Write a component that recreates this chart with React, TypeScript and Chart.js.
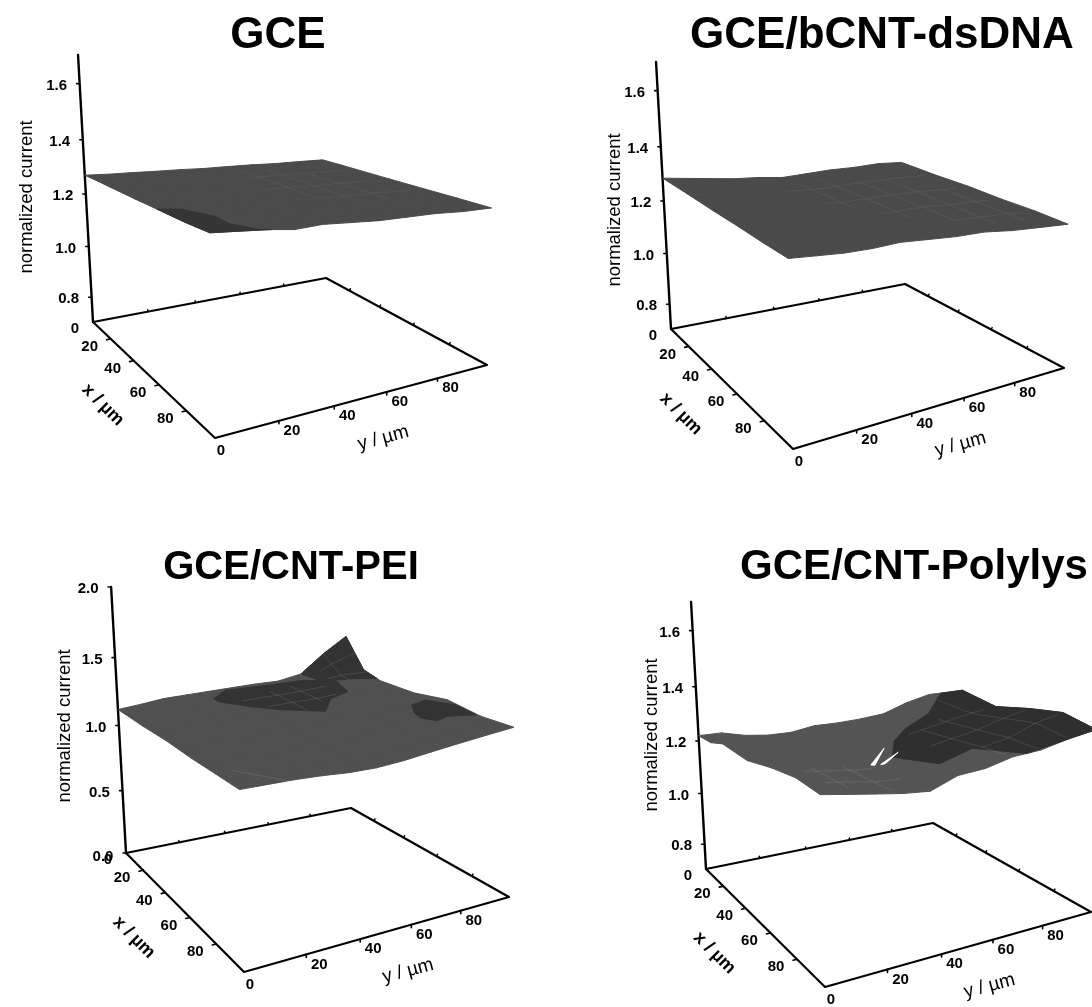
import React, { useEffect, useRef } from "react";
import { Chart, registerables } from "chart.js";

Chart.register(...registerables);

// ---------- data ----------
const X_NODES = [0, 10, 20, 40, 60, 80, 100];
const Y_NODES = [0, 10, 20, 30, 40, 50, 60, 70, 80, 90, 100];
const X_TICKS = [20, 40, 60, 80];
const Y_TICKS = [20, 40, 60, 80];

const GCE_Z = [
  [1.27, 1.265, 1.262, 1.258, 1.255, 1.25, 1.248, 1.245, 1.24, 1.238, 1.235],
  [1.272, 1.268, 1.264, 1.26, 1.256, 1.252, 1.25, 1.247, 1.243, 1.24, 1.238],
  [1.273, 1.27, 1.265, 1.262, 1.258, 1.255, 1.252, 1.25, 1.246, 1.243, 1.24],
  [1.275, 1.272, 1.268, 1.265, 1.262, 1.258, 1.256, 1.253, 1.25, 1.247, 1.244],
  [1.278, 1.275, 1.27, 1.266, 1.264, 1.262, 1.258, 1.256, 1.254, 1.25, 1.248],
  [1.28, 1.277, 1.272, 1.268, 1.266, 1.264, 1.26, 1.258, 1.256, 1.254, 1.252],
  [1.285, 1.28, 1.275, 1.265, 1.27, 1.265, 1.26, 1.26, 1.26, 1.255, 1.255],
];
const BCNT_Z = [
  [1.285, 1.275, 1.265, 1.255, 1.25, 1.24, 1.245, 1.25, 1.25, 1.255, 1.25],
  [1.28, 1.27, 1.262, 1.252, 1.248, 1.24, 1.243, 1.247, 1.248, 1.25, 1.245],
  [1.275, 1.265, 1.258, 1.25, 1.245, 1.24, 1.24, 1.245, 1.245, 1.245, 1.24],
  [1.265, 1.258, 1.25, 1.245, 1.243, 1.238, 1.238, 1.24, 1.24, 1.235, 1.235],
  [1.258, 1.25, 1.245, 1.242, 1.24, 1.238, 1.235, 1.238, 1.232, 1.23, 1.225],
  [1.25, 1.245, 1.24, 1.238, 1.24, 1.236, 1.233, 1.232, 1.228, 1.225, 1.22],
  [1.245, 1.24, 1.235, 1.235, 1.24, 1.235, 1.23, 1.23, 1.22, 1.215, 1.21],
];
const PEI_Z = [
  [1.12, 1.14, 1.165, 1.175, 1.185, 1.195, 1.205, 1.21, 1.25, 1.4, 1.53],
  [1.11, 1.13, 1.15, 1.16, 1.17, 1.18, 1.19, 1.2, 1.22, 1.27, 1.29],
  [1.1, 1.12, 1.14, 1.15, 1.16, 1.17, 1.18, 1.19, 1.21, 1.23, 1.24],
  [1.09, 1.1, 1.11, 1.12, 1.13, 1.14, 1.15, 1.16, 1.18, 1.21, 1.225],
  [1.07, 1.08, 1.09, 1.1, 1.11, 1.12, 1.13, 1.15, 1.17, 1.21, 1.25],
  [1.06, 1.07, 1.07, 1.08, 1.09, 1.1, 1.11, 1.13, 1.15, 1.18, 1.205],
  [1.05, 1.055, 1.06, 1.06, 1.055, 1.06, 1.08, 1.11, 1.14, 1.17, 1.2],
];
const POLY_Z = [
  [1.22, 1.22, 1.2, 1.19, 1.19, 1.205, 1.205, 1.21, 1.22, 1.255, 1.28],
  [1.22, 1.22, 1.21, 1.2, 1.2, 1.21, 1.22, 1.23, 1.25, 1.28, 1.31],
  [1.24, 1.23, 1.22, 1.21, 1.21, 1.22, 1.23, 1.25, 1.27, 1.31, 1.34],
  [1.23, 1.23, 1.22, 1.22, 1.22, 1.23, 1.24, 1.26, 1.28, 1.3, 1.315],
  [1.25, 1.24, 1.23, 1.22, 1.22, 1.23, 1.25, 1.27, 1.29, 1.32, 1.345],
  [1.26, 1.24, 1.23, 1.22, 1.22, 1.24, 1.25, 1.28, 1.3, 1.34, 1.365],
  [1.25, 1.24, 1.23, 1.22, 1.215, 1.25, 1.26, 1.285, 1.295, 1.32, 1.34],
];

// darker contour patches on the surfaces, as [x, y] in µm
const GCE_DARK = [[[57.5, 0], [60.6, 8], [75, 13.7], [87.4, 12.8], [98, 17.7], [100, 22], [100, 10], [100, 0], [80, 0]]];
const PEI_DARK = [
  [[8, 37], [1.5, 46], [3, 60], [5, 76], [10, 83], [13, 86], [25, 83], [28, 74], [39, 65], [30, 52], [22, 44], [12, 37]],
  [[53, 96], [66, 99.5], [78, 99.5], [73, 92], [74, 87.5], [68, 85], [62, 86], [54, 90]],
  [[0, 80], [0, 90], [0, 100], [10, 100], [18, 100], [15, 92], [10, 82]],
];
const POLY_DARK = [[[7, 100], [20, 100], [40, 100], [60, 100], [80, 100], [100, 100], [100, 90], [100, 75], [77, 68], [80, 54], [58, 48], [42, 58], [33, 68], [26, 82]]];
const POLY_GAP = [
  [[61, 38], [47, 51], [62, 39]],
  [[62.5, 41], [55, 52], [63, 42.5]],
];

// faint grid traces on the surfaces: [x1, y1, x2, y2] in µm
const GCE_FAINT = [[20, 55, 20, 95], [40, 50, 40, 90], [60, 60, 60, 95], [10, 60, 60, 60], [10, 70, 70, 70], [20, 80, 70, 80]];
const BCNT_FAINT = [[20, 40, 20, 95], [40, 45, 40, 95], [60, 55, 60, 95], [80, 70, 80, 95], [10, 50, 50, 50], [10, 60, 70, 60], [20, 70, 80, 70], [20, 80, 90, 80], [40, 90, 90, 90]];
const PEI_FAINT = [[10, 60, 35, 60], [8, 70, 28, 70], [15, 45, 15, 80], [25, 50, 25, 78], [0, 90, 15, 90], [5, 85, 5, 100], [10, 85, 12, 100], [80, 6, 100, 18]];
const POLY_FAINT = [[40, 70, 95, 70], [35, 80, 98, 80], [20, 90, 98, 90], [40, 65, 40, 95], [60, 62, 60, 98], [80, 70, 80, 98], [60, 15, 90, 15], [60, 28, 95, 28], [65, 10, 65, 38], [82, 10, 82, 38]];

const TITLE_A = "GCE";
const TITLE_B = "GCE/bCNT-dsDNA";
const TITLE_C = "GCE/CNT-PEI";
const TITLE_D = "GCE/CNT-Polylys";
const Z_TICKS_FINE = [0.8, 1.0, 1.2, 1.4, 1.6];
const Z_TICKS_PEI = [0.0, 0.5, 1.0, 1.5, 2.0];

// ---------- panel geometry (styling of the 3-D view) ----------
type Pt = [number, number];
type Panel = {
  title: string; tSize: number; tX: number; tY: number; left: number; top: number; height: number;
  L: Pt; F: Pt; R: Pt; B: Pt; z0: number; zMax: number; k: number; q: number;
  zt: number[]; grid: number[][]; dark: number[][][]; gap: number[][][]; faint: number[][];
  base: string; shade: string; faintColor: string; zLabel: Pt;
};
const M = { L: 1, F: 1.36, R: 1.1, B: 0.86 };
const LEAN = { L: -0.056, F: -0.034, R: 0.032, B: -0.025 };

const PANELS: Panel[] = [
  { title: TITLE_A, tSize: 44, tX: 278, tY: 36, left: 0, top: 0, height: 520, L: [93, 322], F: [215, 438], R: [487, 365], B: [326, 278], z0: 0.7, zMax: 1.7, k: 245, q: 0.09, zt: Z_TICKS_FINE, grid: GCE_Z, dark: GCE_DARK, gap: [], faint: GCE_FAINT, base: "#4b4b4b", shade: "#353535", faintColor: "rgba(170,170,170,0.08)", zLabel: [27, 197] },
  { title: TITLE_B, tSize: 44, tX: 882, tY: 36, left: 560, top: 0, height: 520, L: [671, 329], F: [793, 449], R: [1064, 368], B: [905, 284], z0: 0.7, zMax: 1.7, k: 245, q: 0.09, zt: Z_TICKS_FINE, grid: BCNT_Z, dark: [], gap: [], faint: BCNT_FAINT, base: "#4a4a4a", shade: "#353535", faintColor: "rgba(170,170,170,0.1)", zLabel: [615, 210] },
  { title: TITLE_C, tSize: 40, tX: 291, tY: 568, left: 0, top: 520, height: 487, L: [126, 853], F: [244, 972], R: [509, 897], B: [351, 808], z0: 0, zMax: 2, k: 122, q: 0.045, zt: Z_TICKS_PEI, grid: PEI_Z, dark: PEI_DARK, gap: [], faint: PEI_FAINT, base: "#505050", shade: "#333333", faintColor: "rgba(170,170,170,0.18)", zLabel: [65, 726] },
  { title: TITLE_D, tSize: 42, tX: 914, tY: 567, left: 560, top: 520, height: 487, L: [706, 869], F: [825, 987], R: [1091, 912], B: [933, 823], z0: 0.7, zMax: 1.7, k: 245, q: 0.09, zt: Z_TICKS_FINE, grid: POLY_Z, dark: POLY_DARK, gap: POLY_GAP, faint: POLY_FAINT, base: "#545454", shade: "#2f2f2f", faintColor: "rgba(170,170,170,0.18)", zLabel: [652, 735] },
];

function bil(u: number, v: number, l: number, f: number, r: number, b: number) {
  return (1 - u) * (1 - v) * l + u * (1 - v) * f + u * v * r + (1 - u) * v * b;
}
function project(p: Panel, xv: number, yv: number, z: number) {
  const u = xv / 100, v = yv / 100;
  const d = z - p.z0;
  const lift = p.k * d * (1 + p.q * d);
  const bx = bil(u, v, p.L[0], p.F[0], p.R[0], p.B[0]);
  const by = bil(u, v, p.L[1], p.F[1], p.R[1], p.B[1]);
  return {
    x: bx + bil(u, v, LEAN.L, LEAN.F, LEAN.R, LEAN.B) * lift,
    y: by - bil(u, v, M.L, M.F, M.R, M.B) * lift,
  };
}
function seg(nodes: number[], t: number) {
  let i = 0;
  while (i < nodes.length - 2 && t > nodes[i + 1]) i++;
  return [i, (t - nodes[i]) / (nodes[i + 1] - nodes[i])];
}
function zAt(p: Panel, x: number, y: number) {
  const [i, a] = seg(X_NODES, x);
  const [j, b] = seg(Y_NODES, y);
  const g = p.grid;
  return (1 - a) * (1 - b) * g[i][j] + a * (1 - b) * g[i + 1][j] + a * b * g[i + 1][j + 1] + (1 - a) * b * g[i][j + 1];
}
const onSurf = (p: Panel, x: number, y: number) => project(p, x, y, zAt(p, x, y));

const line = (data: any[], color: string, width: number) => ({
  data, showLine: true, pointRadius: 0, borderColor: color, borderWidth: width, fill: false,
  clip: false as any, borderJoinStyle: "round" as const, borderCapStyle: "round" as const,
});
const poly = (data: any[], color: string) => ({
  data: [...data, data[0]], showLine: true, pointRadius: 0, borderColor: color, borderWidth: 1,
  backgroundColor: color, fill: "shape" as any, clip: false as any, borderJoinStyle: "round" as const,
});

function buildDatasets(p: Panel) {
  const out: any[] = [];
  const fl = (x: number, y: number) => project(p, x, y, p.z0);
  // floor and vertical axis
  out.push(line([fl(0, 0), fl(100, 0), fl(100, 100), fl(0, 100), fl(0, 0)], "#000", 2.2));
  const zLine: any[] = [];
  for (const z of [p.z0, ...p.zt.filter((t) => t > p.z0), p.zMax]) zLine.push(project(p, 0, 0, z));
  out.push(line(zLine, "#000", 2.4));
  for (const z of p.zt) {
    const a = project(p, 0, 0, z);
    out.push(line([a, { x: a.x - 3, y: a.y }], "#000", 1.6));
  }
  for (const t of X_TICKS) {
    const f = Math.pow(t / 100, 1.2) * 100;
    const a = fl(f, 0), b = fl(f, 100);
    out.push(line([a, { x: a.x - 4, y: a.y + 1 }], "#000", 1.6));
    out.push(line([b, { x: b.x + 1, y: b.y - 2 }], "#000", 1.4));
  }
  for (const t of Y_TICKS) {
    const f = Math.pow(t / 100, 0.9) * 100;
    const a = fl(100, f), b = fl(0, f);
    out.push(line([a, { x: a.x, y: a.y + 3 }], "#000", 1.6));
    out.push(line([b, { x: b.x, y: b.y - 2 }], "#000", 1.4));
  }
  // surface
  for (let i = 0; i < X_NODES.length - 1; i++) {
    for (let j = 0; j < Y_NODES.length - 1; j++) {
      const q = [
        project(p, X_NODES[i], Y_NODES[j], p.grid[i][j]),
        project(p, X_NODES[i], Y_NODES[j + 1], p.grid[i][j + 1]),
        project(p, X_NODES[i + 1], Y_NODES[j + 1], p.grid[i + 1][j + 1]),
        project(p, X_NODES[i + 1], Y_NODES[j], p.grid[i + 1][j]),
      ];
      out.push(poly(q, p.base));
    }
  }
  for (const blob of p.dark) out.push(poly(blob.map(([x, y]) => onSurf(p, x, y)), p.shade));
  for (const [x1, y1, x2, y2] of p.faint) {
    const pts: any[] = [];
    for (let s = 0; s <= 10; s++) pts.push(onSurf(p, x1 + ((x2 - x1) * s) / 10, y1 + ((y2 - y1) * s) / 10));
    out.push(line(pts, p.faintColor, 1));
  }
  for (const g of p.gap) out.push(poly(g.map(([x, y]) => onSurf(p, x, y)), "#ffffff"));
  // Chart.js paints the first dataset last, so the list goes top layer first
  return out.reverse();
}

const FONT = '"Liberation Sans", Arial, sans-serif';

function textPlugin(p: Panel) {
  return {
    id: "axisText",
    afterDraw(chart: any) {
      const ctx = chart.ctx;
      const sx = chart.scales.x, sy = chart.scales.y;
      const put = (txt: string, px: number, py: number, font: string, rot = 0) => {
        ctx.save();
        ctx.translate(sx.getPixelForValue(px), sy.getPixelForValue(py));
        ctx.rotate((rot * Math.PI) / 180);
        ctx.font = font;
        ctx.fillStyle = "#000";
        ctx.textAlign = "center";
        ctx.textBaseline = "middle";
        ctx.fillText(txt, 0, 0);
        ctx.restore();
      };
      const tick = `bold 15px ${FONT}`;
      for (const z of p.zt) {
        const a = project(p, 0, 0, z);
        put(z.toFixed(1), a.x - 23, a.y + (z === p.z0 ? 4 : 2), tick);
      }
      const fl = (x: number, y: number) => project(p, x, y, p.z0);
      const o = fl(0, 0);
      put("0", o.x - 18, o.y + 7, tick);
      const f0 = fl(100, 0);
      put("0", f0.x + 6, f0.y + 13, tick);
      for (const t of X_TICKS) {
        const a = fl(Math.pow(t / 100, 1.2) * 100, 0);
        put(String(t), a.x - 21, a.y + 8, tick);
      }
      for (const t of Y_TICKS) {
        const a = fl(100, Math.pow(t / 100, 0.9) * 100);
        put(String(t), a.x + 13, a.y + 10, tick);
      }
      const mid = fl(50, 0);
      put("x / µm", mid.x - 51, mid.y + 25, `bold 18px ${FONT}`, 45);
      const ym = fl(100, 60);
      put("y / µm", ym.x + 5, ym.y + 44, `19px ${FONT}`, -15);
      put("normalized current", p.zLabel[0], p.zLabel[1], `18.5px ${FONT}`, -90);
    },
  };
}

function PanelChart({ p }: { p: Panel }) {
  const ref = useRef<HTMLCanvasElement>(null);
  const width = 2 * (p.tX - p.left);
  useEffect(() => {
    const padTop = p.tY - p.top - 0.6 * p.tSize;
    const areaTop = p.top + padTop + 1.2 * p.tSize;
    const chart = new Chart(ref.current as HTMLCanvasElement, {
      type: "scatter",
      data: { datasets: buildDatasets(p) },
      options: {
        animation: false,
        responsive: false,
        maintainAspectRatio: false,
        devicePixelRatio: 1,
        events: [],
        layout: { padding: 0 },
        plugins: {
          legend: { display: false },
          tooltip: { enabled: false },
          title: {
            display: true,
            text: p.title,
            color: "#000",
            font: { family: FONT, size: p.tSize, weight: "bold", lineHeight: 1.2 },
            padding: { top: padTop, bottom: 0 },
          },
        },
        scales: {
          x: { type: "linear", display: false, min: p.left, max: p.left + width },
          y: { type: "linear", display: false, reverse: true, min: areaTop, max: p.top + p.height },
        },
      } as any,
      plugins: [textPlugin(p)],
    });
    return () => chart.destroy();
  }, [p, width]);
  return (
    <canvas
      ref={ref}
      width={width}
      height={p.height}
      style={{ position: "absolute", left: p.left, top: p.top, width, height: p.height, display: "block" }}
    />
  );
}

export default function App() {
  return (
    <div style={{ position: "absolute", left: 0, top: 0, width: 1092, height: 1007, overflow: "hidden", background: "#fff" }}>
      {PANELS.map((p) => (
        <PanelChart key={p.title} p={p} />
      ))}
    </div>
  );
}
